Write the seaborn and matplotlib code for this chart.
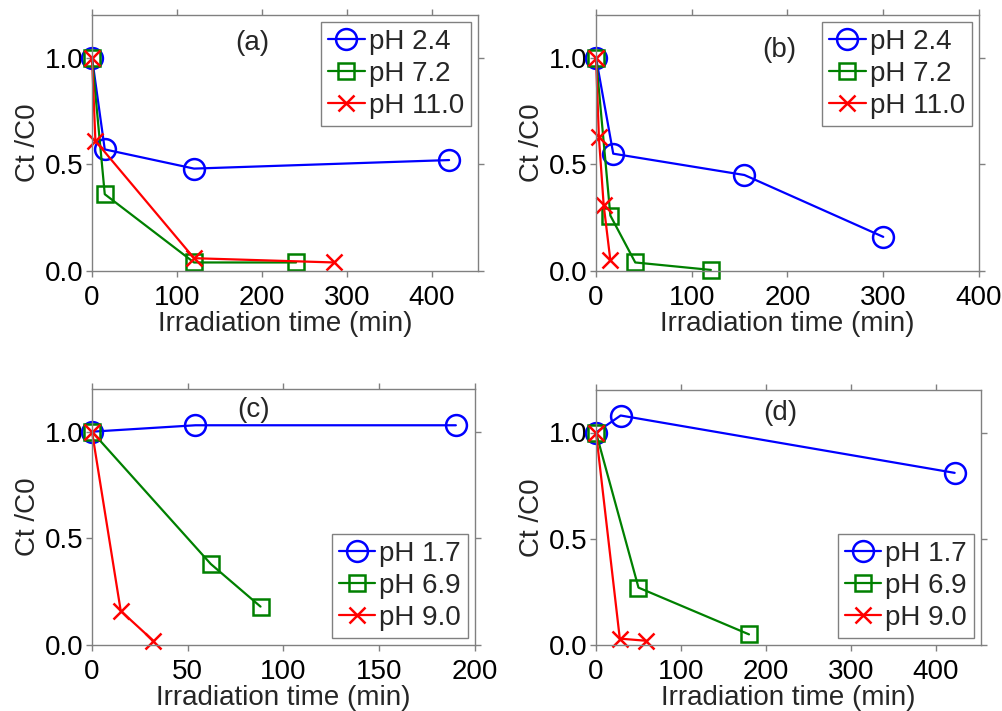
import matplotlib
matplotlib.use("Agg")
import matplotlib.pyplot as plt
import seaborn as sns
import pandas as pd

sns.set_style("ticks")
plt.rcParams['font.family'] = ['Liberation Sans', 'DejaVu Sans']

# ---- data ----
# panel (a)
a_t24 = [0, 15, 120, 420];      a_c24 = [1.0, 0.57, 0.48, 0.52]
a_t72 = [0, 15, 120, 240];      a_c72 = [1.0, 0.36, 0.04, 0.04]
a_t110 = [0, 4, 120, 285];      a_c110 = [1.0, 0.61, 0.06, 0.04]
# panel (b)
b_t24 = [0, 18, 155, 300];      b_c24 = [1.0, 0.55, 0.45, 0.16]
b_t72 = [0, 15, 41, 120];       b_c72 = [1.0, 0.26, 0.04, 0.005]
b_t110 = [0, 3, 8, 15];         b_c110 = [1.0, 0.63, 0.31, 0.05]
# panel (c)
c_t17 = [0, 54, 190];           c_c17 = [1.0, 1.03, 1.03]
c_t69 = [0, 62, 88];            c_c69 = [1.0, 0.38, 0.18]
c_t90 = [0, 15, 32];            c_c90 = [1.0, 0.16, 0.02]
# panel (d)
d_t17 = [0, 29, 422];           d_c17 = [1.0, 1.08, 0.81]
d_t69 = [0, 50, 180];           d_c69 = [1.0, 0.27, 0.05]
d_t90 = [0, 28, 59];            d_c90 = [1.0, 0.03, 0.02]

labels_ab = ["pH 2.4", "pH 7.2", "pH 11.0"]
labels_cd = ["pH 1.7", "pH 6.9", "pH 9.0"]
xticks_a = [0, 100, 200, 300, 400]
xticks_b = [0, 100, 200, 300, 400]
xticks_c = [0, 50, 100, 150, 200]
xticks_d = [0, 100, 200, 300, 400]
yticks = [0.0, 0.5, 1.0]

colors = ["#0000ff", "#008000", "#ff0000"]
markers = ["o", "s", "x"]
msizes = [15, 12, 12]

W, H = 1003, 711
fig = plt.figure(figsize=(W / 100, H / 100), dpi=100)

def box(l, r, t, b):
    return [l / W, 1 - b / H, (r - l) / W, (b - t) / H]

panels = [
    dict(pos=box(92, 478, 15, 271), series=[(a_t24, a_c24), (a_t72, a_c72), (a_t110, a_c110)],
         labels=labels_ab, xlim=(0, 454), xticks=xticks_a, tag="(a)", tagpos=(0.415, 0.89), loc="upper right"),
    dict(pos=box(596, 979, 15, 271), series=[(b_t24, b_c24), (b_t72, b_c72), (b_t110, b_c110)],
         labels=labels_ab, xlim=(0, 400), xticks=xticks_b, tag="(b)", tagpos=(0.478, 0.863), loc="upper right"),
    dict(pos=box(92, 475, 389, 645), series=[(c_t17, c_c17), (c_t69, c_c69), (c_t90, c_c90)],
         labels=labels_cd, xlim=(0, 200), xticks=xticks_c, tag="(c)", tagpos=(0.423, 0.918), loc="lower right"),
    dict(pos=box(596, 981, 390, 645), series=[(d_t17, d_c17), (d_t69, d_c69), (d_t90, d_c90)],
         labels=labels_cd, xlim=(0, 453), xticks=xticks_d, tag="(d)", tagpos=(0.478, 0.91), loc="lower right"),
]

FS = 20
LFS = 20
for p in panels:
    ax = fig.add_axes(p["pos"])
    for (t, c), lab, col, mk, ms in zip(p["series"], p["labels"], colors, markers, msizes):
        df = pd.DataFrame({"t": t, "c": c})
        sns.lineplot(data=df, x="t", y="c", ax=ax, color=col, marker=mk, markersize=ms,
                     markerfacecolor="none", markeredgecolor=col, markeredgewidth=1.8,
                     linewidth=1.6, label=lab, sort=False, estimator=None, clip_on=False)
    ax.set_xlim(*p["xlim"])
    ax.set_ylim(0, 1.2)
    ax.set_xticks(p["xticks"])
    ax.set_yticks(yticks)
    ax.set_yticklabels([f"{v:.1f}" for v in yticks])
    ax.tick_params(direction="out", length=4, width=1, colors="#808080", labelcolor="black",
                   labelsize=FS, top=True, right=True)
    ax.tick_params(axis="y", pad=2)
    ax.tick_params(axis="x", pad=6)
    for s in ax.spines.values():
        s.set_color("#808080")
        s.set_linewidth(1)
    ax.set_xlabel("Irradiation time (min)", fontsize=20, labelpad=0)
    ax.set_ylabel("Ct /C0", fontsize=FS, labelpad=3)
    ax.text(p["tagpos"][0], p["tagpos"][1], p["tag"], transform=ax.transAxes,
            ha="center", va="center", fontsize=FS)
    leg = ax.legend(loc=p["loc"], fontsize=LFS, handlelength=1.32, handletextpad=0.15,
                    labelspacing=0.22, borderpad=0.24, borderaxespad=0.26, fancybox=False,
                    framealpha=1, edgecolor="#808080")
    leg.get_frame().set_linewidth(1)

fig.savefig("out.png", dpi=100)
